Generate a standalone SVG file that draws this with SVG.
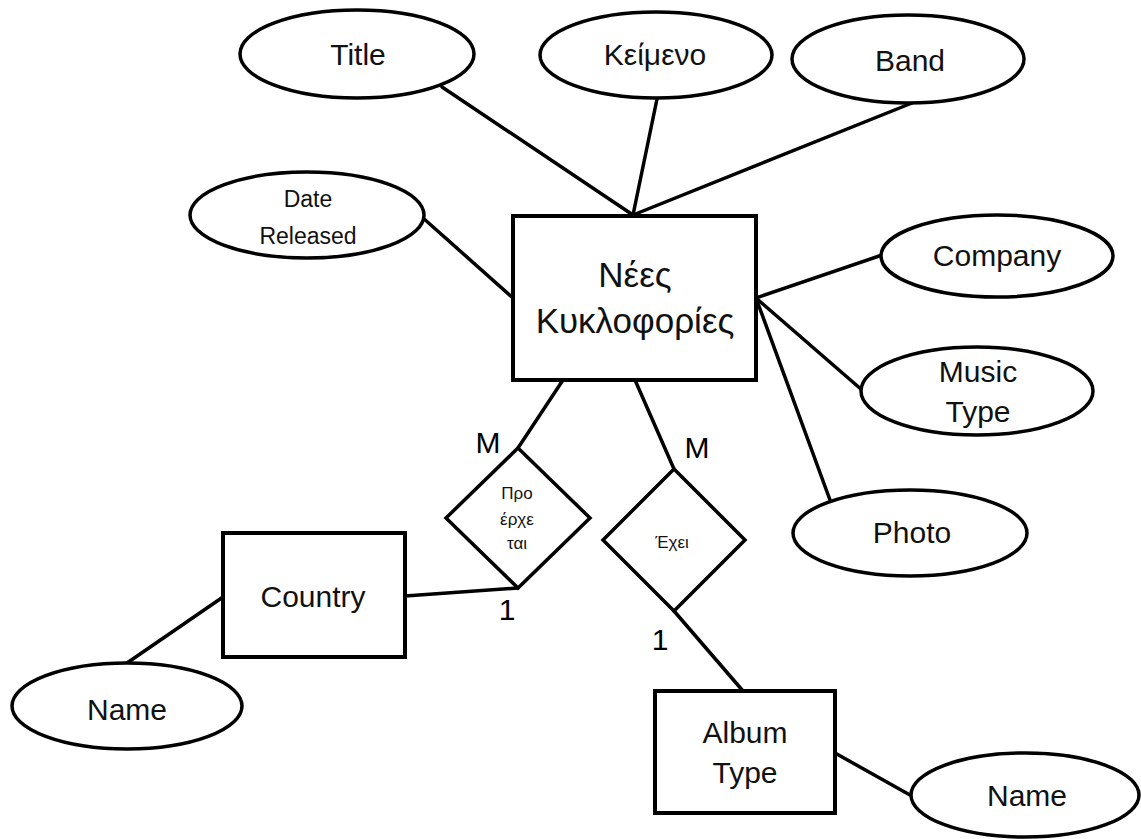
<svg xmlns="http://www.w3.org/2000/svg" width="1141" height="839" viewBox="0 0 1141 839">
<style>
.bg{fill:#ffffff}
.conn line{stroke:#000;stroke-width:3.5;stroke-linecap:round}
.attr{fill:#fff;stroke:#000;stroke-width:3.5}
.ent{fill:#fff;stroke:#000;stroke-width:4}
.rel{fill:#fff;stroke:#000;stroke-width:3.5;stroke-linejoin:miter}
text{font-family:"Liberation Sans",Arial,sans-serif;fill:#111;text-anchor:middle}
.t{font-size:30px}
.tm{font-size:35px}
.ts{font-size:23px}
.td{font-size:17px}
.card{font-size:30px;fill:#000}
</style>
<rect class="bg" x="0" y="0" width="1141" height="839"/>
<g id="connectors" class="conn">
<line x1="442" y1="87" x2="633" y2="215"/>
<line x1="657" y1="99" x2="633" y2="215"/>
<line x1="912" y1="103" x2="633" y2="215"/>
<line x1="423" y1="218" x2="513" y2="298"/>
<line x1="882" y1="255" x2="756" y2="298"/>
<line x1="862" y1="390" x2="756" y2="298"/>
<line x1="830" y1="500" x2="756" y2="298"/>
<line x1="563" y1="380" x2="518" y2="448"/>
<line x1="635" y1="380" x2="674" y2="469"/>
<line x1="518" y1="588" x2="405" y2="596"/>
<line x1="674" y1="611" x2="743" y2="691"/>
<line x1="223" y1="597" x2="127" y2="663"/>
<line x1="835" y1="753" x2="910" y2="795"/>
</g>
<g id="title"><ellipse class="attr" cx="357" cy="54" rx="117" ry="44"/><text class="t" x="358" y="65">Title</text></g>
<g id="keimeno"><ellipse class="attr" cx="656" cy="55" rx="116" ry="43"/><text class="t" x="655" y="65">Κείμενο</text></g>
<g id="band"><ellipse class="attr" cx="908" cy="59" rx="116" ry="44"/><text class="t" x="910" y="71">Band</text></g>
<g id="date-released"><ellipse class="attr" cx="307" cy="215" rx="117" ry="43"/><text class="ts" x="308" y="207">Date</text><text class="ts" x="308" y="244">Released</text></g>
<g id="company"><ellipse class="attr" cx="997" cy="256" rx="116" ry="41"/><text class="t" x="997" y="266">Company</text></g>
<g id="music-type"><ellipse class="attr" cx="977" cy="391" rx="116" ry="44"/><text class="t" x="978" y="382">Music</text><text class="t" x="978" y="422">Type</text></g>
<g id="photo"><ellipse class="attr" cx="910" cy="533" rx="117" ry="43"/><text class="t" x="912" y="543">Photo</text></g>
<g id="nees-kyklofories"><rect class="ent" x="513" y="216" width="243" height="164"/><text class="tm" x="635" y="287">Νέες</text><text class="tm" x="635" y="333">Κυκλοφορίες</text></g>
<g id="proerxetai"><polygon class="rel" points="518,448 590,518 518,588 446,518"/><text class="td" x="517" y="499">Προ</text><text class="td" x="517" y="525">έρχε</text><text class="td" x="517" y="549">ται</text></g>
<g id="exei"><polygon class="rel" points="674,469 745,540 674,611 603,540"/><text class="td" x="672" y="548">Έχει</text></g>
<g id="country"><rect class="ent" x="223" y="533" width="182" height="124"/><text class="t" x="313" y="607">Country</text></g>
<g id="country-name"><ellipse class="attr" cx="127" cy="706" rx="115" ry="43"/><text class="t" x="127" y="720">Name</text></g>
<g id="album-type"><rect class="ent" x="655" y="691" width="180" height="122"/><text class="t" x="745" y="743">Album</text><text class="t" x="745" y="783">Type</text></g>
<g id="album-name"><ellipse class="attr" cx="1025" cy="795" rx="114" ry="42"/><text class="t" x="1027" y="806">Name</text></g>
<g id="cardinalities">
<text class="card" x="488" y="453">M</text>
<text class="card" x="697" y="458">M</text>
<text class="card" x="507" y="620">1</text>
<text class="card" x="660" y="650">1</text>
</g>
</svg>
